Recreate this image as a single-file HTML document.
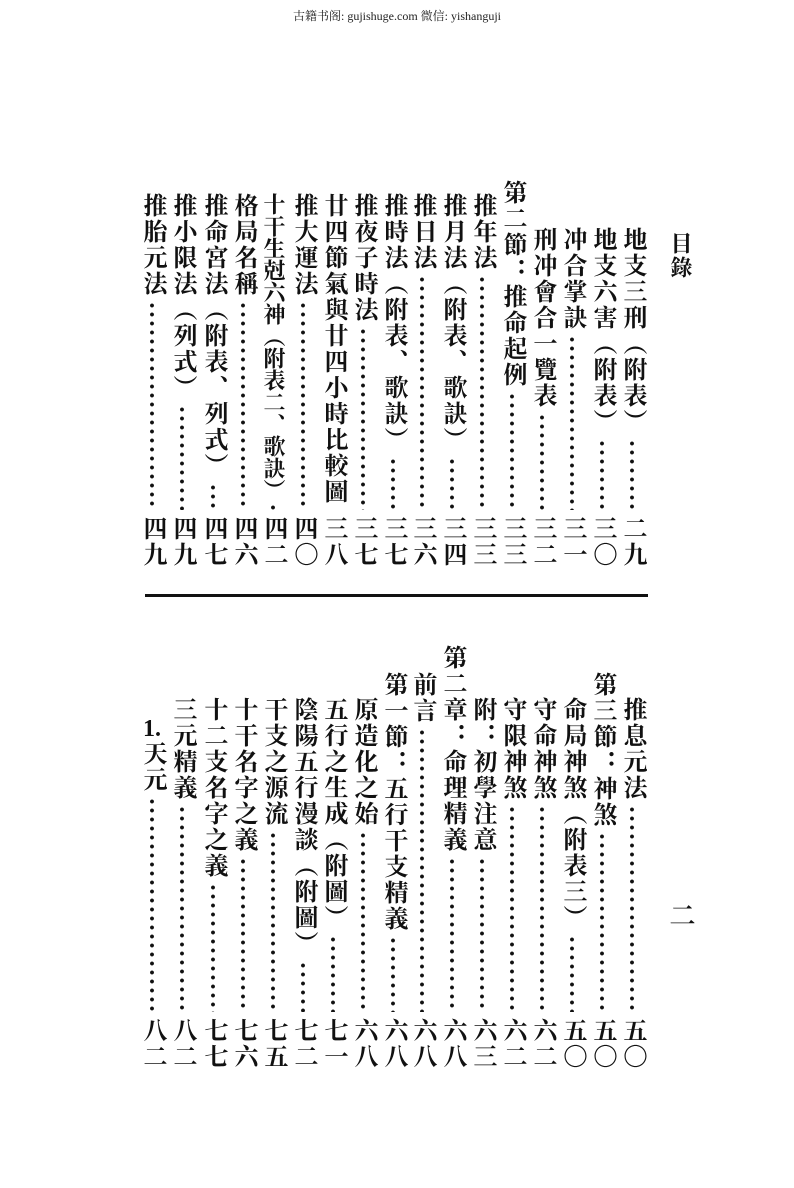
<!DOCTYPE html>
<html><head><meta charset="utf-8"><style>
body{margin:0;background:#fff;}
#p{position:relative;width:794px;height:1188px;overflow:hidden;background:#fff;font-family:"Liberation Serif","Noto Serif CJK SC","Noto Sans CJK SC",serif;color:#111;}
.c{position:absolute;width:28px;display:flex;flex-direction:column;align-items:center;}
.t,.n{writing-mode:vertical-rl;font-size:24px;line-height:28px;letter-spacing:2px;font-weight:700;white-space:nowrap;}
.d{flex:1;width:28px;margin:4px 0 6px;background:radial-gradient(circle,#111 1.7px,transparent 2.2px) center top/28px 9px repeat-y;}
.u{text-combine-upright:all;}
</style></head><body><div id="p">
<div style="position:absolute;top:7px;left:0;width:794px;text-align:center;font-size:12px;font-family:'Liberation Serif','Noto Serif CJK SC',serif;color:#222">古籍书阁: gujishuge.com 微信: yishanguji</div>
<div class="t" style="position:absolute;left:666px;top:232px;font-size:22px">目錄</div>
<div style="position:absolute;left:145px;top:594px;width:503px;height:3px;background:#111"></div>
<div class="t" style="position:absolute;left:666px;top:902px;font-size:26px">二</div>

<div class="c" style="left:618px;top:227px;height:341px"><span class="t">地支三刑（附表）</span><span class="d"></span><span class="n">二九</span></div>
<div class="c" style="left:588px;top:227px;height:341px"><span class="t">地支六害（附表）</span><span class="d"></span><span class="n">三〇</span></div>
<div class="c" style="left:558px;top:227px;height:341px"><span class="t">冲合掌訣</span><span class="d"></span><span class="n">三一</span></div>
<div class="c" style="left:528px;top:227px;height:341px"><span class="t">刑冲會合一覽表</span><span class="d"></span><span class="n">三二</span></div>
<div class="c" style="left:498px;top:180px;height:388px"><span class="t">第二節：推命起例</span><span class="d"></span><span class="n">三三</span></div>
<div class="c" style="left:468px;top:193px;height:375px"><span class="t">推年法</span><span class="d"></span><span class="n">三三</span></div>
<div class="c" style="left:438px;top:193px;height:375px"><span class="t">推月法（附表、歌訣）</span><span class="d"></span><span class="n">三四</span></div>
<div class="c" style="left:408px;top:193px;height:375px"><span class="t">推日法</span><span class="d"></span><span class="n">三六</span></div>
<div class="c" style="left:379px;top:193px;height:375px"><span class="t">推時法（附表、歌訣）</span><span class="d"></span><span class="n">三七</span></div>
<div class="c" style="left:349px;top:193px;height:375px"><span class="t">推夜子時法</span><span class="d"></span><span class="n">三七</span></div>
<div class="c" style="left:319px;top:193px;height:375px"><span class="t">廿四節氣與廿四小時比較圖</span><span class="d"></span><span class="n">三八</span></div>
<div class="c" style="left:289px;top:193px;height:375px"><span class="t">推大運法</span><span class="d"></span><span class="n">四〇</span></div>
<div class="c" style="left:259px;top:193px;height:375px"><span class="t" style="font-size:22px;letter-spacing:0">十干生尅六神（附表二、歌訣）</span><span class="d" style="margin:2px 0 4px"></span><span class="n">四二</span></div>
<div class="c" style="left:229px;top:193px;height:375px"><span class="t">格局名稱</span><span class="d"></span><span class="n">四六</span></div>
<div class="c" style="left:199px;top:193px;height:375px"><span class="t">推命宮法（附表、列式）</span><span class="d"></span><span class="n">四七</span></div>
<div class="c" style="left:168px;top:193px;height:375px"><span class="t">推小限法（列式）</span><span class="d"></span><span class="n">四九</span></div>
<div class="c" style="left:138px;top:193px;height:375px"><span class="t">推胎元法</span><span class="d"></span><span class="n">四九</span></div>

<div class="c" style="left:618px;top:697px;height:373px"><span class="t">推息元法</span><span class="d"></span><span class="n">五〇</span></div>
<div class="c" style="left:588px;top:672px;height:398px"><span class="t">第三節：神煞</span><span class="d"></span><span class="n">五〇</span></div>
<div class="c" style="left:558px;top:697px;height:373px"><span class="t">命局神煞（附表三）</span><span class="d"></span><span class="n">五〇</span></div>
<div class="c" style="left:528px;top:697px;height:373px"><span class="t">守命神煞</span><span class="d"></span><span class="n">六二</span></div>
<div class="c" style="left:498px;top:697px;height:373px"><span class="t">守限神煞</span><span class="d"></span><span class="n">六二</span></div>
<div class="c" style="left:468px;top:697px;height:373px"><span class="t">附：初學注意</span><span class="d"></span><span class="n">六三</span></div>
<div class="c" style="left:438px;top:645px;height:425px"><span class="t">第二章：命理精義</span><span class="d"></span><span class="n">六八</span></div>
<div class="c" style="left:408px;top:672px;height:398px"><span class="t">前言</span><span class="d"></span><span class="n">六八</span></div>
<div class="c" style="left:379px;top:672px;height:398px"><span class="t">第一節：五行干支精義</span><span class="d"></span><span class="n">六八</span></div>
<div class="c" style="left:349px;top:697px;height:373px"><span class="t">原造化之始</span><span class="d"></span><span class="n">六八</span></div>
<div class="c" style="left:319px;top:697px;height:373px"><span class="t">五行之生成（附圖）</span><span class="d"></span><span class="n">七一</span></div>
<div class="c" style="left:289px;top:697px;height:373px"><span class="t">陰陽五行漫談（附圖）</span><span class="d"></span><span class="n">七二</span></div>
<div class="c" style="left:259px;top:697px;height:373px"><span class="t">干支之源流</span><span class="d"></span><span class="n">七五</span></div>
<div class="c" style="left:229px;top:697px;height:373px"><span class="t">十干名字之義</span><span class="d"></span><span class="n">七六</span></div>
<div class="c" style="left:199px;top:697px;height:373px"><span class="t">十二支名字之義</span><span class="d"></span><span class="n">七七</span></div>
<div class="c" style="left:168px;top:697px;height:373px"><span class="t">三元精義</span><span class="d"></span><span class="n">八二</span></div>
<div class="c" style="left:138px;top:717px;height:353px"><span class="t"><span class="u">1.</span>天元</span><span class="d"></span><span class="n">八二</span></div>
</div></body></html>
